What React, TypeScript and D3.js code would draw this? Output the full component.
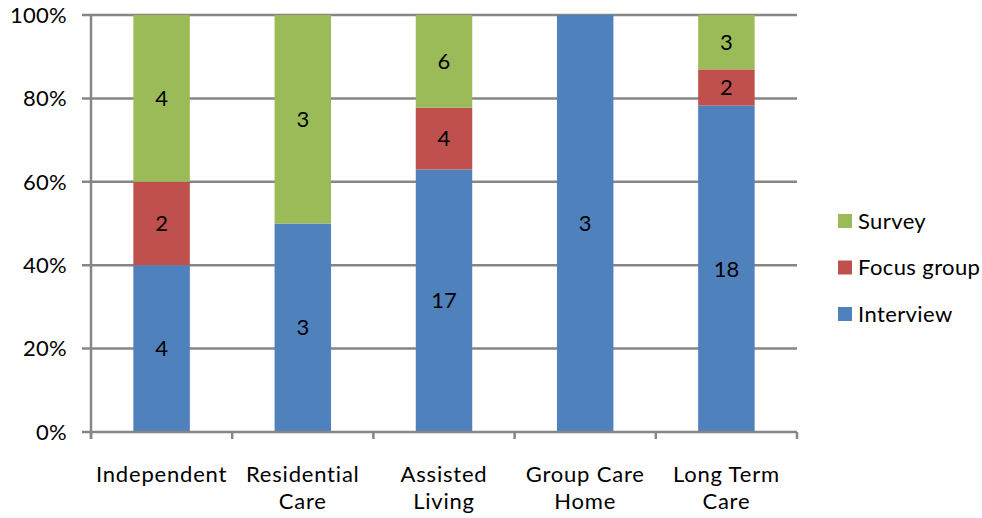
import React from "react";
import * as d3 from "d3";

const categories: string[][] = [
  ["Independent"],
  ["Residential", "Care"],
  ["Assisted", "Living"],
  ["Group Care", "Home"],
  ["Long Term", "Care"],
];
const seriesNames = ["Interview", "Focus group", "Survey"];
const seriesColors = ["#4F81BD", "#C0504D", "#9BBB59"];
const interview = [4, 3, 17, 3, 18];
const focusGroup = [2, 0, 4, 0, 2];
const survey = [4, 3, 6, 0, 3];
const yTicks = [0, 0.2, 0.4, 0.6, 0.8, 1];

const W = 982;
const H = 518;
const margin = { left: 91, right: 185, top: 15, bottom: 86 };
const FONT = "Lato, 'Open Sans', sans-serif";
const FS = 22;
const LS = 0.8;

export default function App() {
  const x = d3
    .scaleBand<number>()
    .domain(d3.range(categories.length))
    .range([margin.left, W - margin.right])
    .paddingInner(0.6)
    .paddingOuter(0.3);
  const y = d3.scaleLinear().domain([0, 1]).range([H - margin.bottom, margin.top]);

  const rows = categories.map((_, i) => ({
    i,
    Interview: interview[i],
    "Focus group": focusGroup[i],
    Survey: survey[i],
  }));
  const stacked = d3
    .stack<any>()
    .keys(seriesNames)
    .offset(d3.stackOffsetExpand)(rows);

  const x0 = margin.left;
  const x1 = W - margin.right;
  const step = (x1 - x0) / categories.length;
  const grid = "#868686";

  return (
    <svg width={W} height={H} style={{ position: "absolute", left: 0, top: 0 }}>
      <rect width={W} height={H} fill="#fff" />
      {yTicks.map((t) => (
        <g key={t}>
          {t > 0 && (
            <line x1={x0 - 9} x2={x1} y1={y(t)} y2={y(t)} stroke={grid} strokeWidth={2.5} />
          )}
          <text
            x={x0 - 24}
            y={y(t)}
            dy="0.35em"
            textAnchor="end"
            fontFamily={FONT}
            fontSize={FS}
            letterSpacing={0.3}
            fill="#000"
          >
            {Math.round(t * 100)}%
          </text>
        </g>
      ))}
      {stacked.map((s, si) =>
        s.map((d, ci) => {
          const raw = (rows[ci] as any)[seriesNames[si]];
          if (!raw) return null;
          const top = y(d[1]);
          const bot = y(d[0]);
          return (
            <g key={`${si}-${ci}`}>
              <rect
                x={x(ci)}
                y={top}
                width={x.bandwidth()}
                height={bot - top}
                fill={seriesColors[si]}
              />
              <text
                x={(x(ci) as number) + x.bandwidth() / 2}
                y={(top + bot) / 2}
                dy="0.35em"
                textAnchor="middle"
                fontFamily={FONT}
                fontSize={FS}
                fill="#000"
              >
                {raw}
              </text>
            </g>
          );
        })
      )}
      {/* axes */}
      <line x1={x0} x2={x0} y1={y(1)} y2={y(0) + 7} stroke={grid} strokeWidth={2.5} />
      <line x1={x0 - 9} x2={x1} y1={y(0)} y2={y(0)} stroke={grid} strokeWidth={2.5} />
      {d3.range(categories.length + 1).map((k) => (
        <line
          key={k}
          x1={x0 + k * step}
          x2={x0 + k * step}
          y1={y(0)}
          y2={y(0) + 7}
          stroke={grid}
          strokeWidth={2.5}
        />
      ))}
      {categories.map((lines, i) => (
        <text
          key={i}
          x={(x(i) as number) + x.bandwidth() / 2}
          y={482}
          textAnchor="middle"
          fontFamily={FONT}
          fontSize={FS}
          letterSpacing={LS}
          fill="#000"
        >
          {lines.map((l, j) => (
            <tspan key={j} x={(x(i) as number) + x.bandwidth() / 2} dy={j === 0 ? 0 : 27}>
              {l}
            </tspan>
          ))}
        </text>
      ))}
      {/* legend */}
      {[2, 1, 0].map((si, k) => (
        <g key={si} transform={`translate(838, ${221 + k * 46.5})`}>
          <rect x={0} y={-7} width={14} height={14} fill={seriesColors[si]} />
          <text
            x={20}
            y={0}
            dy="0.35em"
            fontFamily={FONT}
            fontSize={FS}
            letterSpacing={0.4}
            fill="#000"
          >
            {seriesNames[si]}
          </text>
        </g>
      ))}
    </svg>
  );
}
